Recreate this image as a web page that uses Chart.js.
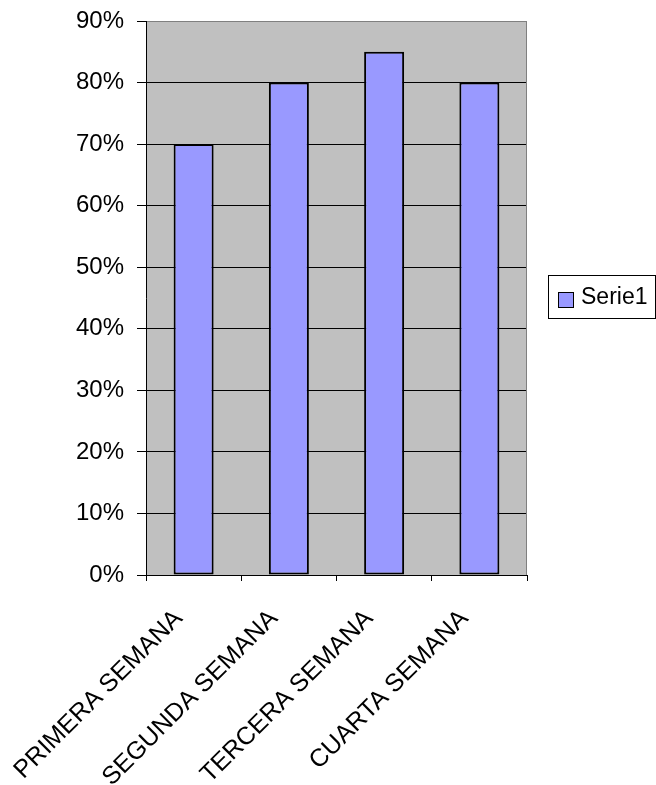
<!DOCTYPE html>
<html>
<head>
<meta charset="utf-8">
<script src="https://cdn.jsdelivr.net/npm/chart.js@4.4.1/dist/chart.umd.min.js"></script>
<style>
  html, body { margin: 0; padding: 0; background: #ffffff; }
  #wrap { width: 656px; height: 785px; }
</style>
</head>
<body>
<div id="wrap"><canvas id="c" width="656" height="785"></canvas></div>
<script>
const categories = ['PRIMERA SEMANA', 'SEGUNDA SEMANA', 'TERCERA SEMANA', 'CUARTA SEMANA'];
const serie1 = [0.70, 0.80, 0.85, 0.80];
const seriesName = 'Serie1';
const yMin = 0;
const yMax = 0.9;
const yStep = 0.1;

const FONT = 'Arial, "Liberation Sans", sans-serif';

const bgPlugin = {
  id: 'bgPlugin',
  beforeDraw(chart) {
    const { ctx, chartArea: a } = chart;
    ctx.save();
    ctx.fillStyle = '#ffffff';
    ctx.fillRect(0, 0, chart.width, chart.height);
    ctx.fillStyle = '#c0c0c0';
    ctx.fillRect(a.left, a.top, a.right - a.left, a.bottom - a.top);
    ctx.restore();
  },
  afterDraw(chart) {
    const { ctx, chartArea: a } = chart;
    ctx.save();
    ctx.strokeStyle = '#808080';
    ctx.lineWidth = 1;
    ctx.beginPath();
    ctx.moveTo(Math.round(a.right) - 0.5, a.top);
    ctx.lineTo(Math.round(a.right) - 0.5, a.bottom);
    ctx.stroke();
    // legend
    const ds = chart.data.datasets[0];
    const lx = 548.5, ly = 275.5, lw = 107, lh = 43;
    ctx.fillStyle = '#ffffff';
    ctx.fillRect(lx, ly, lw, lh);
    ctx.strokeStyle = '#000000';
    ctx.lineWidth = 1;
    ctx.strokeRect(lx, ly, lw, lh);
    ctx.fillStyle = ds.backgroundColor;
    ctx.fillRect(558.5, 292.5, 15, 15);
    ctx.strokeRect(558.5, 292.5, 15, 15);
    ctx.fillStyle = '#000000';
    ctx.font = '23px ' + FONT;
    ctx.textBaseline = 'middle';
    ctx.textAlign = 'left';
    ctx.fillText(ds.label, 581, 298);
    ctx.restore();
  }
};

new Chart(document.getElementById('c'), {
  type: 'bar',
  data: {
    labels: categories,
    datasets: [{
      label: seriesName,
      data: serie1,
      backgroundColor: '#9999ff',
      borderColor: '#000000',
      borderWidth: 2,
      borderSkipped: false,
      barPercentage: 0.42,
      categoryPercentage: 1.0
    }]
  },
  options: {
    responsive: false,
    animation: false,
    devicePixelRatio: 1,
    layout: { padding: { top: 21, right: 129, left: 0, bottom: 0 } },
    plugins: {
      legend: { display: false },
      tooltip: { enabled: false },
      title: { display: false }
    },
    scales: {
      x: {
        offset: true,
        grid: {
          offset: true,
          drawOnChartArea: false,
          drawTicks: true,
          tickLength: 6,
          tickColor: '#000000',
          color: '#000000'
        },
        border: { display: true, color: '#000000', width: 1 },
        ticks: {
          minRotation: 45,
          maxRotation: 45,
          autoSkip: false,
          padding: 23,
          labelOffset: -15,
          color: '#000000',
          font: { family: FONT, size: 25 }
        },
        afterFit(scale) {
          scale.height = 210;
          scale.paddingLeft = 0; scale.paddingRight = 0;
          scale.paddingTop = 0; scale.paddingBottom = 0;
        }
      },
      y: {
        min: yMin,
        max: yMax,
        ticks: {
          stepSize: yStep,
          color: '#000000',
          padding: 13,
          font: { family: FONT, size: 24 },
          callback: (v) => Math.round(v * 100) + '%'
        },
        grid: {
          color: (c) => (c.tick && c.tick.value >= yMax - 1e-9) ? '#808080' : '#000000',
          tickColor: '#000000',
          tickLength: 9,
          lineWidth: 1
        },
        border: { display: true, color: '#000000', width: 1 },
        afterFit(scale) {
          scale.width = 146;
          scale.paddingLeft = 0; scale.paddingRight = 0;
          scale.paddingTop = 0; scale.paddingBottom = 0;
        }
      }
    }
  },
  plugins: [bgPlugin]
});
</script>
</body>
</html>
